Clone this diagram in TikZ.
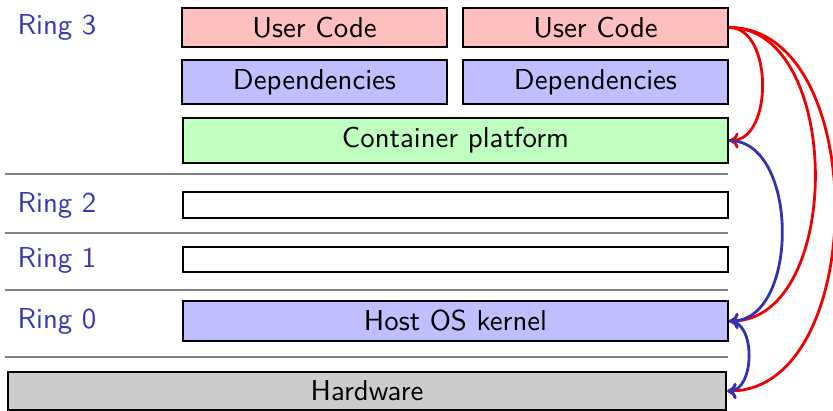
\documentclass[tikz,border=0pt]{standalone}
\usetikzlibrary{arrows.meta}
\definecolor{ringblue}{RGB}{55,55,180}
\definecolor{arrblue}{RGB}{50,50,180}
\definecolor{arrred}{RGB}{240,0,0}
\newcommand\pxu{0.375pt}
\newcommand\figfont{\sffamily\fontsize{10.8}{13}\selectfont}
\begin{document}
\begin{tikzpicture}[x=0.375pt,y=-0.375pt,
  box/.style={draw, line width=0.9pt, inner sep=0pt, font=\figfont, anchor=center},
  ringlbl/.style={text=ringblue, font=\figfont, anchor=west, inner sep=0pt},
  sep/.style={draw=black!50, line width=0.8pt},
  arr/.style={line width=1.05pt, -{To[length=3.5pt,width=6pt]}}]
\useasboundingbox (0,0) rectangle (833,411);
\node[box, fill=red!25, minimum width=265*\pxu, minimum height=39*\pxu] (uc1) at (314.5,27.5) {User Code};
\node[box, fill=red!25, minimum width=265*\pxu, minimum height=39*\pxu] (uc2) at (595.5,27.5) {User Code};
\node[box, fill=blue!25, minimum width=265*\pxu, minimum height=44*\pxu] (dep1) at (314.5,82) {Dependencies};
\node[box, fill=blue!25, minimum width=265*\pxu, minimum height=44*\pxu] (dep2) at (595.5,82) {Dependencies};
\node[box, fill=green!25, minimum width=545*\pxu, minimum height=45*\pxu] (cp) at (455.5,140.5) {Container platform};
\node[box, fill=white, minimum width=545*\pxu, minimum height=26*\pxu] (r2) at (455.5,205) {};
\node[box, fill=white, minimum width=545*\pxu, minimum height=25*\pxu] (r1) at (455.5,259.5) {};
\node[box, fill=blue!25, minimum width=545*\pxu, minimum height=40*\pxu] (os) at (455.5,321) {Host OS kernel};
\node[box, fill=black!20, minimum width=718*\pxu, minimum height=38*\pxu] (hw) at (367,391) {Hardware};
\node[ringlbl] (l3) at (17,27) {Ring 3};
\node[ringlbl] (l2) at (17,205) {Ring 2};
\node[ringlbl] (l1) at (17,260) {Ring 1};
\node[ringlbl] (l0) at (17,321) {Ring 0};
\coordinate (s3a) at (5,174); \coordinate (s3b) at (728,174);
\coordinate (s2a) at (5,233); \coordinate (s2b) at (728,233);
\coordinate (s1a) at (5,290); \coordinate (s1b) at (728,290);
\coordinate (s0a) at (5,357); \coordinate (s0b) at (728,357);
\draw[sep] (s3a) -- (s3b);
\draw[sep] (s2a) -- (s2b);
\draw[sep] (s1a) -- (s1b);
\draw[sep] (s0a) -- (s0b);
\draw[arr, arrred] (uc2.east) to[out=0,in=0] (cp.east);
\draw[arr, arrred] (uc2.east) to[out=0,in=0] (os.east);
\draw[arr, arrred] (uc2.east) to[out=0,in=0] (hw.east);
\draw[arr, arrblue] (cp.east) to[out=0,in=0] (os.east);
\draw[arr, arrblue] (os.east) to[out=0,in=0] (hw.east);
\end{tikzpicture}
\end{document}
